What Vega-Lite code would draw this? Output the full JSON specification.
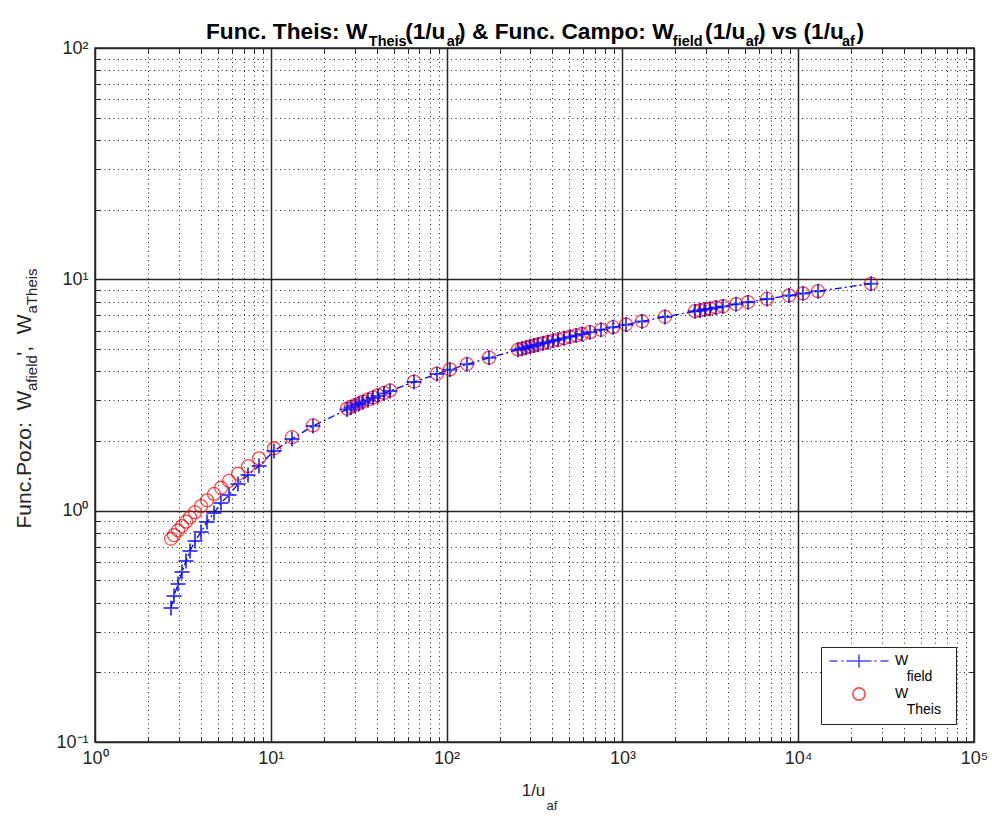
{
  "$schema": "https://vega.github.io/schema/vega-lite/v6.json",
  "width": 879,
  "height": 694,
  "autosize": {"type": "none"},
  "padding": {"left": 95, "top": 48, "right": 18, "bottom": 76},
  "background": "white",
  "config": {
    "font": "Liberation Sans",
    "view": {"stroke": "#262626", "strokeWidth": 1.5},
    "axis": {
      "domain": false,
      "labelFont": "Liberation Sans",
      "titleFont": "Liberation Sans",
      "labelColor": "#262626",
      "titleColor": "#262626",
      "titleFontWeight": "normal",
      "tickColor": "#262626"
    }
  },
  "title": {
    "text": "Func. Theis: W\u00a0\u00a0\u00a0\u00a0\u00a0\u00a0(1/u\u00a0\u00a0) & Func. Campo: W\u00a0\u00a0\u00a0\u00a0\u00a0(1/u\u00a0\u00a0) vs (1/u\u00a0\u00a0)",
    "subtitle": "\u200b\u2003\u2003\u2003\u2003\u2003\u2003\u2003\u2003\u2003\u2003\u2003\u00a0Theis\u2003\u2003\u2002\u00a0af\u2003\u2003\u2003\u2003\u2003\u2003\u2003\u2003\u2003\u2003\u2003\u2003\u2003\u2003\u2002\u00a0field\u2003\u2003\u2003af\u2003\u2003\u2003\u2003\u2003\u2002\u00a0af",
    "anchor": "start",
    "frame": "group",
    "dx": 111,
    "offset": -9,
    "font": "Liberation Sans",
    "fontSize": 22.7,
    "fontWeight": "bold",
    "color": "black",
    "subtitleFont": "Liberation Sans",
    "subtitleFontSize": 14.45,
    "subtitleFontWeight": "bold",
    "subtitleColor": "black",
    "subtitlePadding": -9
  },
  "datasets": {
    "pozo": [
      {"inv_u": 2.706, "W": 0.756, "serie": "W_Theis"},
      {"inv_u": 2.815, "W": 0.784, "serie": "W_Theis"},
      {"inv_u": 2.966, "W": 0.821, "serie": "W_Theis"},
      {"inv_u": 3.126, "W": 0.858, "serie": "W_Theis"},
      {"inv_u": 3.294, "W": 0.897, "serie": "W_Theis"},
      {"inv_u": 3.47, "W": 0.936, "serie": "W_Theis"},
      {"inv_u": 3.706, "W": 0.985, "serie": "W_Theis"},
      {"inv_u": 4.009, "W": 1.046, "serie": "W_Theis"},
      {"inv_u": 4.337, "W": 1.108, "serie": "W_Theis"},
      {"inv_u": 4.753, "W": 1.181, "serie": "W_Theis"},
      {"inv_u": 5.209, "W": 1.256, "serie": "W_Theis"},
      {"inv_u": 5.783, "W": 1.344, "serie": "W_Theis"},
      {"inv_u": 6.508, "W": 1.444, "serie": "W_Theis"},
      {"inv_u": 7.419, "W": 1.557, "serie": "W_Theis"},
      {"inv_u": 8.569, "W": 1.684, "serie": "W_Theis"},
      {"inv_u": 10.43, "W": 1.861, "serie": "W_Theis"},
      {"inv_u": 13.2, "W": 2.078, "serie": "W_Theis"},
      {"inv_u": 17.38, "W": 2.335, "serie": "W_Theis"},
      {"inv_u": 27.13, "W": 2.76, "serie": "W_Theis"},
      {"inv_u": 28.59, "W": 2.811, "serie": "W_Theis"},
      {"inv_u": 30.13, "W": 2.861, "serie": "W_Theis"},
      {"inv_u": 31.75, "W": 2.912, "serie": "W_Theis"},
      {"inv_u": 33.46, "W": 2.963, "serie": "W_Theis"},
      {"inv_u": 35.73, "W": 3.026, "serie": "W_Theis"},
      {"inv_u": 38.14, "W": 3.09, "serie": "W_Theis"},
      {"inv_u": 40.72, "W": 3.154, "serie": "W_Theis"},
      {"inv_u": 44.05, "W": 3.231, "serie": "W_Theis"},
      {"inv_u": 47.64, "W": 3.308, "serie": "W_Theis"},
      {"inv_u": 65.25, "W": 3.616, "serie": "W_Theis"},
      {"inv_u": 88.19, "W": 3.914, "serie": "W_Theis"},
      {"inv_u": 104.5, "W": 4.082, "serie": "W_Theis"},
      {"inv_u": 130.6, "W": 4.303, "serie": "W_Theis"},
      {"inv_u": 174.3, "W": 4.589, "serie": "W_Theis"},
      {"inv_u": 254.8, "W": 4.967, "serie": "W_Theis"},
      {"inv_u": 268.5, "W": 5.02, "serie": "W_Theis"},
      {"inv_u": 282.9, "W": 5.072, "serie": "W_Theis"},
      {"inv_u": 298.1, "W": 5.124, "serie": "W_Theis"},
      {"inv_u": 314.2, "W": 5.176, "serie": "W_Theis"},
      {"inv_u": 331.1, "W": 5.228, "serie": "W_Theis"},
      {"inv_u": 353.4, "W": 5.294, "serie": "W_Theis"},
      {"inv_u": 377.4, "W": 5.359, "serie": "W_Theis"},
      {"inv_u": 403.0, "W": 5.424, "serie": "W_Theis"},
      {"inv_u": 430.3, "W": 5.49, "serie": "W_Theis"},
      {"inv_u": 465.4, "W": 5.568, "serie": "W_Theis"},
      {"inv_u": 503.4, "W": 5.646, "serie": "W_Theis"},
      {"inv_u": 544.6, "W": 5.725, "serie": "W_Theis"},
      {"inv_u": 589.2, "W": 5.803, "serie": "W_Theis"},
      {"inv_u": 654.3, "W": 5.908, "serie": "W_Theis"},
      {"inv_u": 755.5, "W": 6.052, "serie": "W_Theis"},
      {"inv_u": 884.3, "W": 6.209, "serie": "W_Theis"},
      {"inv_u": 1048, "W": 6.379, "serie": "W_Theis"},
      {"inv_u": 1293, "W": 6.588, "serie": "W_Theis"},
      {"inv_u": 1747, "W": 6.889, "serie": "W_Theis"},
      {"inv_u": 2588, "W": 7.282, "serie": "W_Theis"},
      {"inv_u": 2763, "W": 7.348, "serie": "W_Theis"},
      {"inv_u": 2950, "W": 7.413, "serie": "W_Theis"},
      {"inv_u": 3150, "W": 7.478, "serie": "W_Theis"},
      {"inv_u": 3407, "W": 7.557, "serie": "W_Theis"},
      {"inv_u": 3734, "W": 7.649, "serie": "W_Theis"},
      {"inv_u": 4429, "W": 7.819, "serie": "W_Theis"},
      {"inv_u": 5183, "W": 7.976, "serie": "W_Theis"},
      {"inv_u": 6645, "W": 8.225, "serie": "W_Theis"},
      {"inv_u": 8867, "W": 8.513, "serie": "W_Theis"},
      {"inv_u": 10650, "W": 8.696, "serie": "W_Theis"},
      {"inv_u": 12960, "W": 8.893, "serie": "W_Theis"},
      {"inv_u": 25950, "W": 9.587, "serie": "W_Theis"},
      {"inv_u": 2.706, "W": 0.38, "serie": "W_field"},
      {"inv_u": 2.815, "W": 0.428, "serie": "W_field"},
      {"inv_u": 2.966, "W": 0.482, "serie": "W_field"},
      {"inv_u": 3.126, "W": 0.543, "serie": "W_field"},
      {"inv_u": 3.294, "W": 0.606, "serie": "W_field"},
      {"inv_u": 3.47, "W": 0.669, "serie": "W_field"},
      {"inv_u": 3.706, "W": 0.74, "serie": "W_field"},
      {"inv_u": 4.009, "W": 0.809, "serie": "W_field"},
      {"inv_u": 4.337, "W": 0.894, "serie": "W_field"},
      {"inv_u": 4.753, "W": 0.977, "serie": "W_field"},
      {"inv_u": 5.209, "W": 1.08, "serie": "W_field"},
      {"inv_u": 5.783, "W": 1.169, "serie": "W_field"},
      {"inv_u": 6.508, "W": 1.305, "serie": "W_field"},
      {"inv_u": 7.419, "W": 1.427, "serie": "W_field"},
      {"inv_u": 8.569, "W": 1.561, "serie": "W_field"},
      {"inv_u": 10.43, "W": 1.812, "serie": "W_field"},
      {"inv_u": 13.2, "W": 2.042, "serie": "W_field"},
      {"inv_u": 17.38, "W": 2.323, "serie": "W_field"},
      {"inv_u": 27.13, "W": 2.74, "serie": "W_field"},
      {"inv_u": 28.59, "W": 2.79, "serie": "W_field"},
      {"inv_u": 30.13, "W": 2.84, "serie": "W_field"},
      {"inv_u": 31.75, "W": 2.89, "serie": "W_field"},
      {"inv_u": 33.46, "W": 2.94, "serie": "W_field"},
      {"inv_u": 35.73, "W": 3.0, "serie": "W_field"},
      {"inv_u": 38.14, "W": 3.07, "serie": "W_field"},
      {"inv_u": 40.72, "W": 3.13, "serie": "W_field"},
      {"inv_u": 44.05, "W": 3.21, "serie": "W_field"},
      {"inv_u": 47.64, "W": 3.29, "serie": "W_field"},
      {"inv_u": 65.25, "W": 3.6, "serie": "W_field"},
      {"inv_u": 88.19, "W": 3.9, "serie": "W_field"},
      {"inv_u": 104.5, "W": 4.07, "serie": "W_field"},
      {"inv_u": 130.6, "W": 4.29, "serie": "W_field"},
      {"inv_u": 174.3, "W": 4.58, "serie": "W_field"},
      {"inv_u": 254.8, "W": 4.96, "serie": "W_field"},
      {"inv_u": 268.5, "W": 5.01, "serie": "W_field"},
      {"inv_u": 282.9, "W": 5.06, "serie": "W_field"},
      {"inv_u": 298.1, "W": 5.12, "serie": "W_field"},
      {"inv_u": 314.2, "W": 5.17, "serie": "W_field"},
      {"inv_u": 331.1, "W": 5.22, "serie": "W_field"},
      {"inv_u": 353.4, "W": 5.29, "serie": "W_field"},
      {"inv_u": 377.4, "W": 5.35, "serie": "W_field"},
      {"inv_u": 403.0, "W": 5.42, "serie": "W_field"},
      {"inv_u": 430.3, "W": 5.48, "serie": "W_field"},
      {"inv_u": 465.4, "W": 5.56, "serie": "W_field"},
      {"inv_u": 503.4, "W": 5.64, "serie": "W_field"},
      {"inv_u": 544.6, "W": 5.72, "serie": "W_field"},
      {"inv_u": 589.2, "W": 5.8, "serie": "W_field"},
      {"inv_u": 654.3, "W": 5.9, "serie": "W_field"},
      {"inv_u": 755.5, "W": 6.05, "serie": "W_field"},
      {"inv_u": 884.3, "W": 6.2, "serie": "W_field"},
      {"inv_u": 1048, "W": 6.37, "serie": "W_field"},
      {"inv_u": 1293, "W": 6.58, "serie": "W_field"},
      {"inv_u": 1747, "W": 6.88, "serie": "W_field"},
      {"inv_u": 2588, "W": 7.28, "serie": "W_field"},
      {"inv_u": 2763, "W": 7.34, "serie": "W_field"},
      {"inv_u": 2950, "W": 7.41, "serie": "W_field"},
      {"inv_u": 3150, "W": 7.47, "serie": "W_field"},
      {"inv_u": 3407, "W": 7.55, "serie": "W_field"},
      {"inv_u": 3734, "W": 7.64, "serie": "W_field"},
      {"inv_u": 4429, "W": 7.81, "serie": "W_field"},
      {"inv_u": 5183, "W": 7.97, "serie": "W_field"},
      {"inv_u": 6645, "W": 8.22, "serie": "W_field"},
      {"inv_u": 8867, "W": 8.51, "serie": "W_field"},
      {"inv_u": 10650, "W": 8.69, "serie": "W_field"},
      {"inv_u": 12960, "W": 8.89, "serie": "W_field"},
      {"inv_u": 25950, "W": 9.58, "serie": "W_field"}
    ]
  },
  "data": {"name": "pozo"},
  "layer": [
    {
      "transform": [{"filter": "datum.serie === 'W_field'"}],
      "mark": {"type": "line", "color": "#0000ff", "strokeWidth": 1.3, "strokeDash": [7, 3, 2, 3]},
      "encoding": {
        "x": {
          "field": "inv_u",
          "type": "quantitative",
          "scale": {"type": "log", "domain": [1, 100000], "nice": false},
          "axis": {
            "orient": "bottom",
            "values": [1, 2, 3, 4, 5, 6, 7, 8, 9, 10, 20, 30, 40, 50, 60, 70, 80, 90, 100, 200, 300, 400, 500, 600, 700, 800, 900, 1000, 2000, 3000, 4000, 5000, 6000, 7000, 8000, 9000, 10000, 20000, 30000, 40000, 50000, 60000, 70000, 80000, 90000, 100000],
            "grid": true,
            "gridColor": "#262626",
            "gridWidth": {"condition": {"test": "abs(log(datum.value)/LN10 - round(log(datum.value)/LN10)) < 0.001", "value": 1.5}, "value": 1},
            "gridDash": {"condition": {"test": "abs(log(datum.value)/LN10 - round(log(datum.value)/LN10)) < 0.001", "value": []}, "value": [1, 3.5]},
            "ticks": true,
            "tickSize": -5,
            "tickWidth": 1,
            "labelExpr": "abs(log(datum.value)/LN10 - round(log(datum.value)/LN10)) < 0.001 ? '10' + ['\u207b\u00b9', '\u2070', '\u00b9', '\u00b2', '\u00b3', '\u2074', '\u2075'][round(log(datum.value)/LN10) + 1] : ''",
            "labelFontSize": 18,
            "labelPadding": 12,
            "labelFlush": false,
            "labelOverlap": false,
            "title": "1/u",
            "titleFontSize": 17,
            "titleAlign": "center",
            "titleBaseline": "top",
            "titleX": 438,
            "titleY": 40
          }
        },
        "y": {
          "field": "W",
          "type": "quantitative",
          "scale": {"type": "log", "domain": [0.1, 100], "nice": false},
          "axis": {
            "orient": "left",
            "values": [0.1, 0.2, 0.3, 0.4, 0.5, 0.6, 0.7, 0.8, 0.9, 1, 2, 3, 4, 5, 6, 7, 8, 9, 10, 20, 30, 40, 50, 60, 70, 80, 90, 100],
            "grid": true,
            "gridColor": "#262626",
            "gridWidth": {"condition": {"test": "abs(log(datum.value)/LN10 - round(log(datum.value)/LN10)) < 0.001", "value": 1.5}, "value": 1},
            "gridDash": {"condition": {"test": "abs(log(datum.value)/LN10 - round(log(datum.value)/LN10)) < 0.001", "value": []}, "value": [1, 3.5]},
            "ticks": true,
            "tickSize": -5,
            "tickWidth": 1,
            "labelExpr": "abs(log(datum.value)/LN10 - round(log(datum.value)/LN10)) < 0.001 ? '10' + ['\u207b\u00b9', '\u2070', '\u00b9', '\u00b2', '\u00b3', '\u2074', '\u2075'][round(log(datum.value)/LN10) + 1] : ''",
            "labelFontSize": 18,
            "labelPadding": 12,
            "labelOverlap": false,
            "labelFlush": false,
            "title": "Func.Pozo:\u00a0\u00a0W\u00a0\u00a0\u00a0\u00a0\u00a0\u00a0',\u00a0\u00a0W",
            "titleFontSize": 21,
            "titleAlign": "left",
            "titleAngle": -90,
            "titleBaseline": "top",
            "titleX": -82,
            "titleY": 480
          }
        }
      }
    },
    {
      "transform": [{"filter": "datum.serie === 'W_Theis'"}],
      "mark": {"type": "point", "filled": false, "strokeWidth": 1.3, "size": 169},
      "encoding": {
        "x": {
          "field": "inv_u",
          "type": "quantitative",
          "scale": {"type": "log", "domain": [1, 100000], "nice": false},
          "axis": {
            "orient": "top",
            "values": [1, 2, 3, 4, 5, 6, 7, 8, 9, 10, 20, 30, 40, 50, 60, 70, 80, 90, 100, 200, 300, 400, 500, 600, 700, 800, 900, 1000, 2000, 3000, 4000, 5000, 6000, 7000, 8000, 9000, 10000, 20000, 30000, 40000, 50000, 60000, 70000, 80000, 90000, 100000],
            "grid": false,
            "labels": false,
            "ticks": true,
            "tickSize": -5,
            "title": null
          }
        },
        "y": {
          "field": "W",
          "type": "quantitative",
          "scale": {"type": "log", "domain": [0.1, 100], "nice": false},
          "axis": {
            "orient": "right",
            "values": [0.1, 0.2, 0.3, 0.4, 0.5, 0.6, 0.7, 0.8, 0.9, 1, 2, 3, 4, 5, 6, 7, 8, 9, 10, 20, 30, 40, 50, 60, 70, 80, 90, 100],
            "grid": false,
            "labels": false,
            "ticks": true,
            "tickSize": -5,
            "title": null
          }
        },
        "color": {
          "field": "serie",
          "type": "nominal",
          "scale": {"domain": ["W_field", "W_Theis"], "range": ["#0000ff", "#ff0000"]},
          "legend": {
            "orient": "bottom-right",
            "offset": 18,
            "title": null,
            "strokeColor": "#262626",
            "fillColor": "white",
            "padding": 7,
            "symbolSize": 150,
            "symbolStrokeWidth": 1.6,
            "symbolOffset": 24,
            "labelOffset": 29,
            "labelFont": "Liberation Sans",
            "labelFontSize": 14,
            "labelColor": "black",
            "labelLimit": 0,
            "rowPadding": 0,
            "labelExpr": "datum.value === 'W_field' ? ['W', '\u200b\u00a0\u00a0\u00a0field\u00a0\u00a0\u200b'] : ['W', '\u200b\u00a0\u00a0\u00a0Theis\u00a0\u00a0\u200b']"
          }
        },
        "shape": {
          "field": "serie",
          "type": "nominal",
          "scale": {
            "domain": ["W_field", "W_Theis"],
            "range": ["M-4.82,0H-3.51M-2.86,0H-2.53M-2.04,0H-0.82M0.82,0H2.04M2.53,0H2.86M3.51,0H4.82M-1.06,0H1.06M0,-1.06V1.06", "circle"]
          }
        }
      }
    },
    {
      "transform": [{"filter": "datum.serie === 'W_field'"}],
      "mark": {"type": "point", "filled": false, "strokeWidth": 2, "size": 225, "shape": "M-1,0H1M0,-1V1"},
      "encoding": {
        "x": {
          "field": "inv_u",
          "type": "quantitative",
          "scale": {"type": "log", "domain": [1, 100000], "nice": false},
          "axis": {
            "orient": "bottom",
            "grid": false,
            "labels": false,
            "ticks": false,
            "domain": false,
            "title": "af",
            "titleFontSize": 13,
            "titleAlign": "left",
            "titleBaseline": "top",
            "titleX": 451,
            "titleY": 57
          }
        },
        "y": {
          "field": "W",
          "type": "quantitative",
          "scale": {"type": "log", "domain": [0.1, 100], "nice": false},
          "axis": {
            "orient": "left",
            "grid": false,
            "labels": false,
            "ticks": false,
            "domain": false,
            "title": "\u200b\u00a0\u00a0\u00a0\u00a0\u00a0\u00a0\u00a0\u00a0\u00a0\u00a0\u00a0\u00a0\u00a0\u00a0\u00a0\u00a0\u00a0\u00a0\u00a0\u00a0\u00a0\u00a0\u00a0\u00a0\u00a0\u00a0\u00a0\u00a0\u00a0\u00a0\u00a0\u00a0\u00a0afield\u00a0\u00a0\u00a0\u00a0\u00a0\u00a0\u00a0\u00a0\u00a0\u00a0aTheis",
            "titleFontSize": 15,
            "titleAlign": "left",
            "titleAngle": -90,
            "titleBaseline": "top",
            "titleX": -71,
            "titleY": 480
          }
        },
        "color": {"field": "serie", "type": "nominal", "scale": {"domain": ["W_field", "W_Theis"], "range": ["#0000ff", "#ff0000"]}, "legend": null}
      }
    }
  ],
  "resolve": {"axis": {"x": "independent", "y": "independent"}}
}
